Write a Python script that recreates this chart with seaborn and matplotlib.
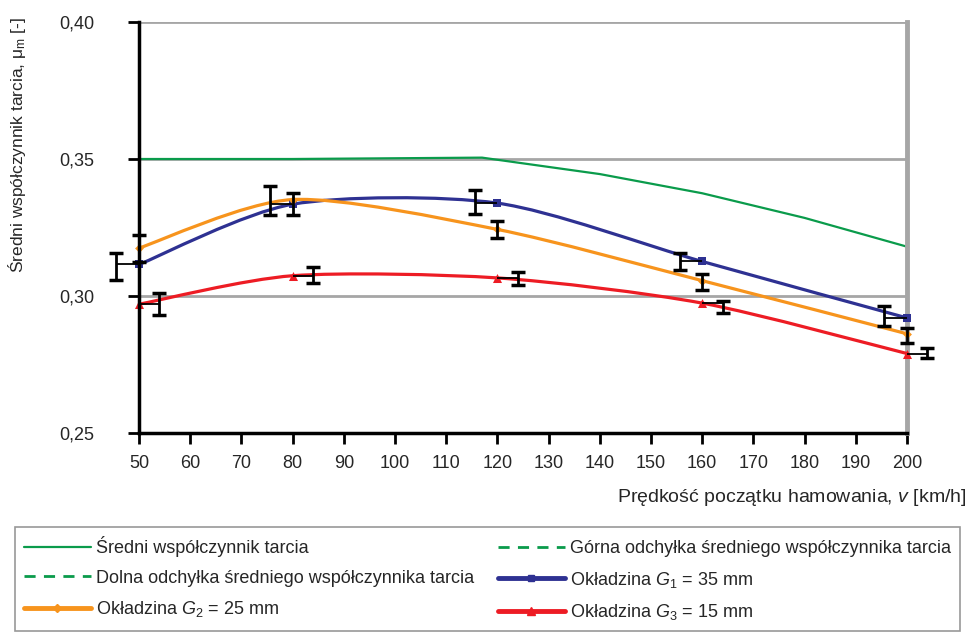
import numpy as np
import pandas as pd
import matplotlib.pyplot as plt
import seaborn as sns
from matplotlib.path import Path
from matplotlib.patches import PathPatch
from matplotlib.lines import Line2D
from matplotlib.ticker import FuncFormatter

speed = [50, 80, 120, 160, 200]
g1 = [0.3115, 0.3335, 0.3339, 0.3126, 0.2920]
g2 = [0.3175, 0.3352, 0.3243, 0.3056, 0.2862]
g3 = [0.2970, 0.3074, 0.3066, 0.2974, 0.2790]

# słupki błędów (dolna / górna granica) i ich przesunięcie w osi x
g1_lo = [0.3057, 0.3294, 0.3300, 0.3096, 0.2889]
g1_hi = [0.3157, 0.3400, 0.3388, 0.3156, 0.2964]
g2_lo = [0.3125, 0.3294, 0.3211, 0.3023, 0.2830]
g2_hi = [0.3223, 0.3377, 0.3274, 0.3080, 0.2883]
g3_lo = [0.2930, 0.3047, 0.3040, 0.2938, 0.2772]
g3_hi = [0.3011, 0.3106, 0.3087, 0.2980, 0.2809]
shift = {'g1': -4.4, 'g2': 0.0, 'g3': 4.0}

mean_v = [50, 80, 117, 140, 160, 180, 200]
mean_mu = [0.3500, 0.3500, 0.3505, 0.3445, 0.3375, 0.3285, 0.3180]

c_green = '#0a9b4b'
c_blue = '#2e3192'
c_orange = '#f7941d'
c_red = '#ed1c24'
c_grid = '#a6a6a6'

sns.set_theme(style='white')
plt.rcParams['font.family'] = ['Liberation Sans', 'DejaVu Sans']
plt.rcParams['mathtext.fontset'] = 'custom'
plt.rcParams['mathtext.rm'] = 'Liberation Sans'
plt.rcParams['mathtext.it'] = 'Liberation Sans:italic'


def smooth_path(x, y, k=7.5):
    pts = np.column_stack([x, y]).astype(float)
    n = len(pts)
    verts = [pts[0]]
    codes = [Path.MOVETO]
    for i in range(n - 1):
        p0 = pts[max(i - 1, 0)]
        p1 = pts[i]
        p2 = pts[i + 1]
        p3 = pts[min(i + 2, n - 1)]
        verts += [p1 + (p2 - p0) / k, p2 - (p3 - p1) / k, p2]
        codes += [Path.CURVE4] * 3
    return Path(verts, codes)


fig = plt.figure(figsize=(9.69, 6.34), dpi=100)
ax = fig.add_axes([139 / 969, 1 - 433 / 634, (907 - 139) / 969, (433 - 22) / 634])

ax.set_xlim(50, 200)
ax.set_ylim(0.25, 0.40)
ax.set_yticks([0.25, 0.30, 0.35, 0.40])
ax.set_xticks(range(50, 201, 10))
ax.yaxis.set_major_formatter(FuncFormatter(lambda v, p: f'{v:.2f}'.replace('.', ',')))
ax.grid(axis='y', color=c_grid, lw=2)
ax.grid(axis='x', visible=False)
ax.set_axisbelow(True)

for s in ['left', 'bottom']:
    ax.spines[s].set_color('black')
    ax.spines[s].set_linewidth(2.5)
    ax.spines[s].set_zorder(5)
ax.spines['top'].set_visible(False)
ax.spines['right'].set_color(c_grid)
ax.spines['right'].set_linewidth(3.5)

# średni współczynnik tarcia
sns.lineplot(x=mean_v, y=mean_mu, color=c_green, lw=1.6, ax=ax)

series = [
    ('g1', g1, g1_lo, g1_hi, c_blue, 's', 6),
    ('g2', g2, g2_lo, g2_hi, c_orange, 'D', 4.5),
    ('g3', g3, g3_lo, g3_hi, c_red, '^', 6.5),
]

for key, vals, lo, hi, col, mk, ms in series:
    ax.add_patch(PathPatch(smooth_path(speed, vals), fc='none', ec=col, lw=2.3, zorder=3))
    sns.scatterplot(x=speed, y=vals, color=col, marker=mk, s=ms ** 2, edgecolor=col,
                    linewidth=0, ax=ax, zorder=4, clip_on=False)
    lo = np.array(lo)
    hi = np.array(hi)
    xe = np.array(speed) + shift[key]
    if shift[key] != 0:
        ax.hlines(vals, speed, xe, colors='black', lw=1.3, zorder=4, clip_on=False)
    eb = ax.errorbar(xe, (lo + hi) / 2, yerr=[(hi - lo) / 2, (hi - lo) / 2], fmt='none',
                     ecolor='black', elinewidth=2, capsize=5, capthick=2.5, zorder=6)
    for art in eb.lines[1]:
        art.set_clip_on(False)
    for art in eb.lines[2]:
        art.set_clip_on(False)

ax.set_xlabel('')
ax.set_ylabel('')
ax.tick_params(axis='both', which='major', direction='out', length=8, width=2,
               color='black', labelsize=13, left=True, bottom=True)
ax.tick_params(axis='y', pad=24)
ax.tick_params(axis='x', pad=8)

fig.text(17 / 969, 1 - 145 / 634, 'Średni współczynnik tarcia, μ$_\\mathrm{m}$ [-]',
         rotation=90, ha='center', va='center', fontsize=12.5)
fig.text(967 / 969, 1 - 497 / 634, 'Prędkość początku hamowania, $\\mathit{v}$ [km/h]',
         ha='right', va='center', fontsize=14)

handles = [
    Line2D([], [], color=c_green, lw=1.6),
    Line2D([], [], color=c_green, lw=2, ls=(0, (4, 3))),
    Line2D([], [], color=c_green, lw=2, ls=(0, (4, 3))),
    Line2D([], [], color=c_blue, lw=3.5, marker='s', ms=5),
    Line2D([], [], color=c_orange, lw=3.5, marker='D', ms=4),
    Line2D([], [], color=c_red, lw=3.5, marker='^', ms=6),
]
labels = [
    'Średni współczynnik tarcia',
    'Górna odchyłka średniego współczynnika tarcia',
    'Dolna odchyłka średniego współczynnika tarcia',
    'Okładzina $\\mathit{G}_1$ = 35 mm',
    'Okładzina $\\mathit{G}_2$ = 25 mm',
    'Okładzina $\\mathit{G}_3$ = 15 mm',
]
# ułożenie wierszami jak w oryginale (2 kolumny)
order = [0, 2, 4, 1, 3, 5]
leg = fig.legend([handles[i] for i in order], [labels[i] for i in order], ncol=2,
                 loc='upper left', bbox_to_anchor=(15 / 969, 1 - 527 / 634),
                 fontsize=13, frameon=True, fancybox=False, handlelength=3.7,
                 handletextpad=0.3, labelspacing=0.7, columnspacing=1.3,
                 borderpad=0.5, borderaxespad=0)
leg.get_frame().set_edgecolor('#7f7f7f')
leg.get_frame().set_linewidth(1.2)

fig.savefig('out.png', dpi=100)
